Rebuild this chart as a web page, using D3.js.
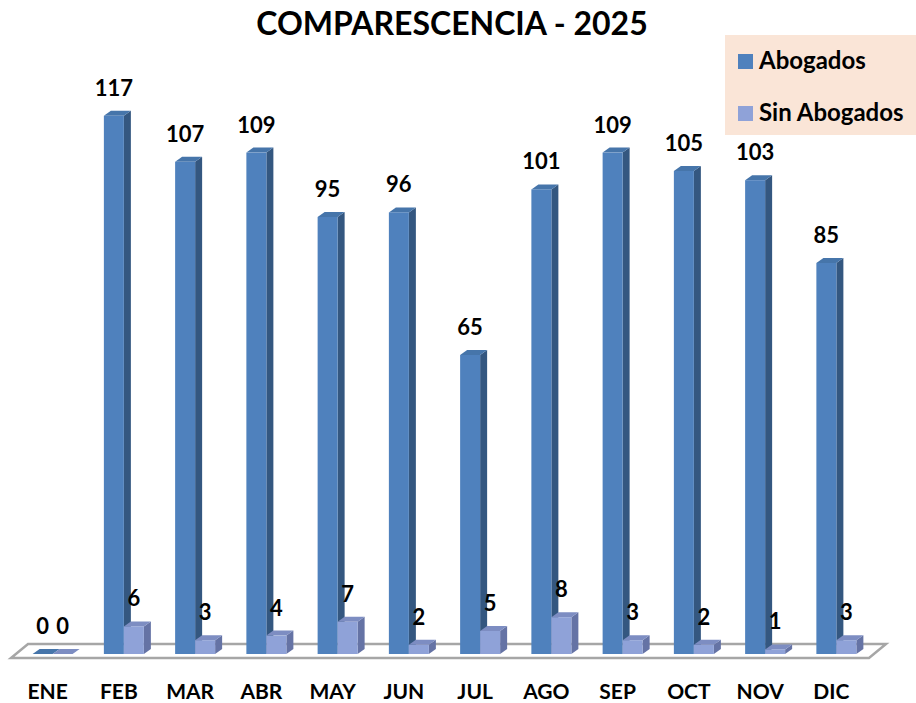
<!DOCTYPE html>
<html lang="es">
<head>
<meta charset="utf-8">
<title>Comparescencia 2025</title>
<script src="https://d3js.org/d3.v7.min.js"></script>
<style>
  body { margin: 0; background: #fff; }
  text { font-family: Lato, "Open Sans", sans-serif; font-weight: 700; }
</style>
</head>
<body>
<div id="chart"></div>
<script>
// data
var months = ["ENE", "FEB", "MAR", "ABR", "MAY", "JUN", "JUL", "AGO", "SEP", "OCT", "NOV", "DIC"];
var abogados = [0, 117, 107, 109, 95, 96, 65, 101, 109, 105, 103, 85];
var sinAbogados = [0, 6, 3, 4, 7, 2, 5, 8, 3, 2, 1, 3];
var seriesNames = ["Abogados", "Sin Abogados"];

var width = 916, height = 703;

var svg = d3.select("#chart")
  .append("svg")
    .attr("width", width)
    .attr("height", height);

// colors: front, side, top
var colors = {
  "Abogados":     {front: "#4f81bd", side: "#345780", top: "#4675aa"},
  "Sin Abogados": {front: "#8fa2d8", side: "#6573a5", top: "#7d8dc2"}
};

var x = d3.scaleBand()
  .domain(months)
  .range([17, 872])
  .padding(0);

var barW = 20;
var xs = d3.scaleBand()
  .domain(seriesNames)
  .range([x.bandwidth() / 2 - barW, x.bandwidth() / 2 + barW]);

var y = d3.scaleLinear()
  .domain([0, 117])
  .range([654, 115.8]);

var dx = 7, dy = -5;   // bar depth
var fdx = 17, fdy = -14; // floor depth

// title
svg.append("text")
  .attr("x", 452)
  .attr("y", 35)
  .attr("text-anchor", "middle")
  .style("font-size", "32px")
  .text("COMPARESCENCIA - 2025");

// floor
var fl = 11, fr = 869, fy = 658;
svg.append("path")
  .attr("d", "M" + fl + "," + fy + "L" + fr + "," + fy + "L" + (fr + fdx) + "," + (fy + fdy) +
             "L" + (fl + fdx) + "," + (fy + fdy) + "Z")
  .attr("fill", "#fff")
  .attr("stroke", "#a6a6a6")
  .attr("stroke-width", 2.5);

// build rows
var rows = months.map(function(m, i) {
  return {month: m, values: [
    {name: "Abogados", value: abogados[i]},
    {name: "Sin Abogados", value: sinAbogados[i]}
  ]};
});

var groups = svg.append("g").selectAll("g")
  .data(rows)
  .enter().append("g")
    .attr("transform", function(d) { return "translate(" + x(d.month) + ",0)"; });

var bars = groups.selectAll("g.bar")
  .data(function(d) { return d.values; })
  .enter().append("g")
    .attr("class", "bar");

// side face
bars.append("path")
  .attr("fill", function(d) { return colors[d.name].side; })
  .attr("d", function(d) {
    var x0 = xs(d.name) + barW, yt = y(d.value), yb = y(0);
    return "M" + x0 + "," + yb + "L" + x0 + "," + yt + "L" + (x0 + dx) + "," + (yt + dy) +
           "L" + (x0 + dx) + "," + (yb + dy) + "Z";
  });

// top face
bars.append("path")
  .attr("fill", function(d) { return colors[d.name].top; })
  .attr("d", function(d) {
    var x0 = xs(d.name), yt = y(d.value);
    return "M" + x0 + "," + yt + "L" + (x0 + barW) + "," + yt + "L" + (x0 + barW + dx) + "," + (yt + dy) +
           "L" + (x0 + dx) + "," + (yt + dy) + "Z";
  });

// front face
bars.append("rect")
  .attr("x", function(d) { return xs(d.name); })
  .attr("y", function(d) { return y(d.value); })
  .attr("width", barW)
  .attr("height", function(d) { return y(0) - y(d.value); })
  .attr("fill", function(d) { return colors[d.name].front; });

// value labels
bars.append("text")
  .attr("x", function(d) { return xs(d.name) + barW / 2; })
  .attr("y", function(d) { return y(d.value) + dy - 15; })
  .attr("text-anchor", "middle")
  .style("font-size", "22px")
  .text(function(d) { return d.value; });

// category labels
svg.append("g").selectAll("text")
  .data(months)
  .enter().append("text")
    .attr("x", function(d) { return x(d) + x.bandwidth() / 2 - 5; })
    .attr("y", 699)
    .attr("text-anchor", "middle")
    .style("font-size", "21px")
    .text(function(d) { return d; });

// legend
var legend = svg.append("g");
legend.append("rect")
  .attr("x", 725).attr("y", 35)
  .attr("width", 191).attr("height", 100)
  .attr("fill", "#fae5d7");
seriesNames.forEach(function(s, i) {
  var ly = 69 + i * 52;
  legend.append("rect")
    .attr("x", 738).attr("y", ly - 15)
    .attr("width", 15).attr("height", 15)
    .attr("fill", colors[s].front);
  legend.append("text")
    .attr("x", 759).attr("y", ly)
    .style("font-size", "24px")
    .text(s);
});
</script>
</body>
</html>
